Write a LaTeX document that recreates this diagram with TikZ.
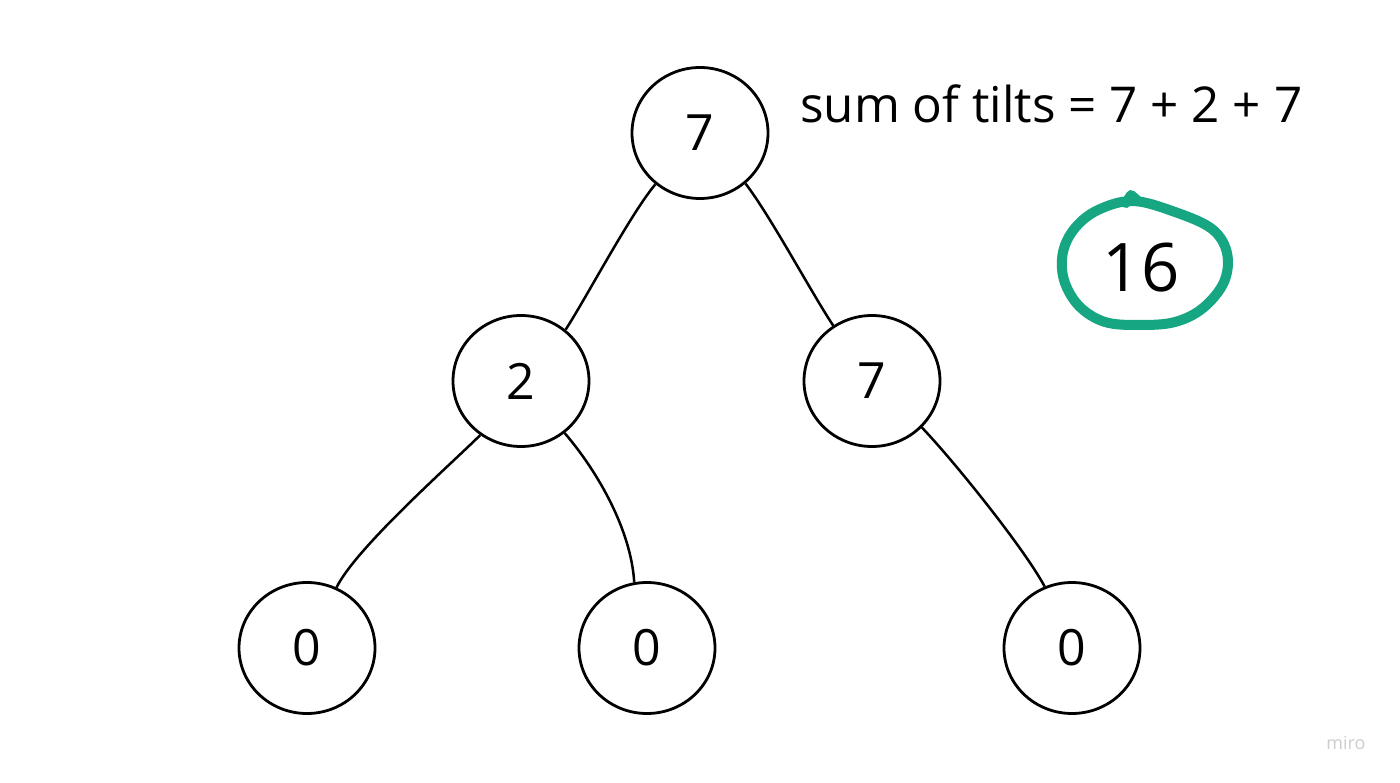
\documentclass[tikz,border=0pt]{standalone}
\usepackage{fontspec}
\setmainfont{Open Sans}
\usetikzlibrary{shapes.geometric}
\definecolor{mirogreen}{RGB}{22,166,130}
\definecolor{miroGray}{RGB}{205,205,205}
\tikzset{
  treenode/.style={draw=black, line width=2.8pt, ellipse, minimum width=136pt, minimum height=131pt, inner sep=0pt,
    font=\fontsize{50}{60}\selectfont},
  treeedge/.style={draw=black, line width=2.5pt},
  loopline/.style={draw=mirogreen, line width=10pt, line cap=round, line join=round}
}
\begin{document}
\begin{tikzpicture}[x=1pt, y=-1pt]
\fill[white] (0,0) rectangle (1400,783);
\useasboundingbox (0,0) rectangle (1400,783);

\node[treenode] (root) at (700,133) {7};
\node[treenode] (two) at (521,381) {2};
\node[treenode] (seven) at (872,381) {7};
\node[treenode] (leafA) at (307,648) {0};
\node[treenode] (leafB) at (647,648) {0};
\node[treenode] (leafC) at (1072,648) {0};

\draw[treeedge] (root.229) .. controls (631,213) and (585,300) .. (two.49);
\draw[treeedge] (root.312) .. controls (771,217) and (811,292) .. (seven.125);
\draw[treeedge] (two.233) .. controls (449,466) and (356,548) .. (leafA.64);
\draw[treeedge] (two.310) .. controls (598,472) and (631,530) .. (leafB.101);
\draw[treeedge] (seven.317) .. controls (953,460) and (1024,548) .. (leafC.114);

\node[anchor=base west, inner sep=0pt, font=\fontsize{49.4}{60}\selectfont] (sumtext) at (800,123) {sum of tilts = 7 + 2 + 7};

\node[inner sep=0pt, font=\fontsize{67}{80}\selectfont] (result) at (1141,268) {16};
\draw[loopline] plot[smooth cycle, tension=0.6] coordinates {(1133,201) (1175,212) (1212,229) (1227,253) (1224,282) (1203,308) (1175,322) (1140,325) (1105,322) (1079,306) (1064,280) (1063,252) (1075,228) (1098,210)};
\draw[loopline] (1126,203) -- (1131,195) -- (1138,201);

\node[inner sep=0pt, text=miroGray, font=\fontsize{18}{20}\selectfont] (miro) at (1346,743) {miro};
\end{tikzpicture}
\end{document}
